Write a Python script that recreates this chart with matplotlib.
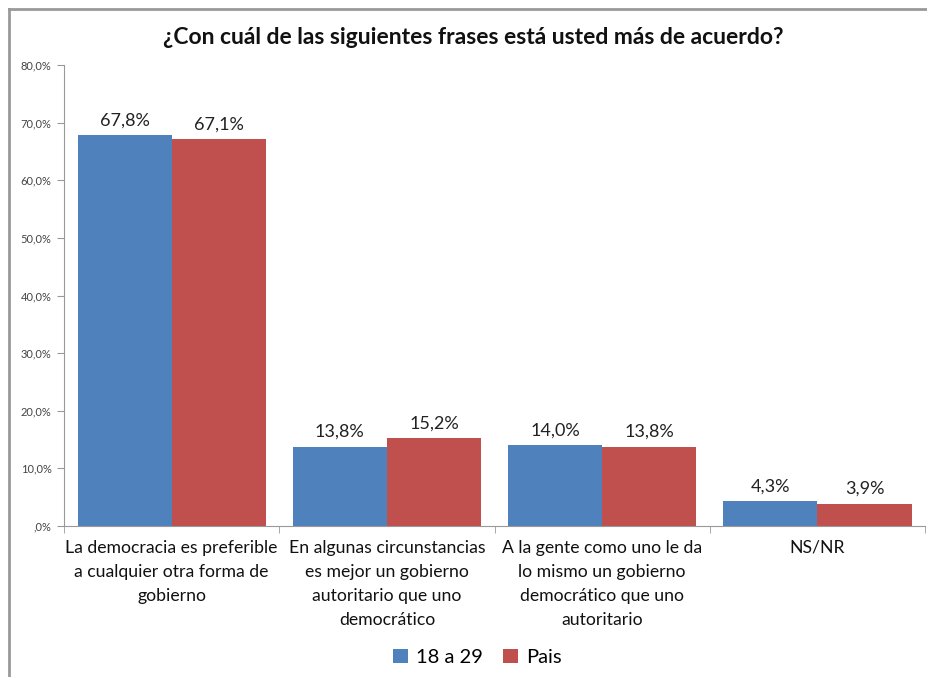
import matplotlib
matplotlib.use("Agg")
import matplotlib.pyplot as plt
from matplotlib.lines import Line2D
import numpy as np

categories = [
    "La democracia es preferible\na cualquier otra forma de\ngobierno",
    "En algunas circunstancias\nes mejor un gobierno\nautoritario que uno\ndemocrático",
    "A la gente como uno le da\nlo mismo un gobierno\ndemocrático que uno\nautoritario",
    "NS/NR",
]
series_names = ["18 a 29", "Pais"]
jovenes = [67.8, 13.8, 14.0, 4.3]
pais = [67.1, 15.2, 13.8, 3.9]
y_ticks = [0, 10, 20, 30, 40, 50, 60, 70, 80]
y_tick_labels = [",0%", "10,0%", "20,0%", "30,0%", "40,0%", "50,0%", "60,0%", "70,0%", "80,0%"]
title = "¿Con cuál de las siguientes frases está usted más de acuerdo?"

colors = ["#4F81BD", "#C0504D"]
plt.rcParams['font.family'] = ['Lato', 'DejaVu Sans']

fig = plt.figure(figsize=(9.27, 6.77), dpi=100)
ax = fig.add_axes([0.069, 0.223, 0.929, 0.681])

x = np.arange(len(categories))
w = 0.437
b1 = ax.bar(x - w / 2, jovenes, w, color=colors[0], label=series_names[0])
b2 = ax.bar(x + w / 2, pais, w, color=colors[1], label=series_names[1])

for bars, vals in ((b1, jovenes), (b2, pais)):
    for r, v in zip(bars, vals):
        ax.text(r.get_x() + r.get_width() / 2, v + 1.2, f"{v:.1f}%".replace(".", ","),
                ha="center", va="bottom", fontsize=13, color="#222222")

ax.set_xlim(-0.5, len(categories) - 0.5)
ax.set_ylim(0, 80)
ax.set_yticks(y_ticks)
ax.set_yticklabels(y_tick_labels, fontsize=8, color="#444444")
ax.set_xticks(x)
ax.set_xticklabels(categories, fontsize=12.7, color="#111111", linespacing=1.62, va="top")
ax.tick_params(axis="x", length=0, pad=10)
ax.set_xticks(np.arange(-0.5, len(categories)), minor=True)
ax.tick_params(axis="x", which="minor", length=5, color="#999999")
ax.tick_params(axis="y", length=5, color="#999999", pad=4)

for s in ["top", "right"]:
    ax.spines[s].set_visible(False)
for s in ["left", "bottom"]:
    ax.spines[s].set_color("#999999")

fig.text(0.510, 0.944, title, ha="center", va="center", fontsize=16.5, fontweight="bold", color="#111111")

leg = fig.legend(handles=[b1, b2], labels=series_names, loc="center", bbox_to_anchor=(0.515, 0.029),
                 ncol=2, frameon=False, fontsize=14.5, handlelength=0.75, handleheight=0.75,
                 handletextpad=0.4, columnspacing=1.0)

fig.add_artist(Line2D([9 / 927, 1.0], [1 - 9 / 677, 1 - 9 / 677], transform=fig.transFigure,
                      color="#999999", lw=2))
fig.add_artist(Line2D([9 / 927, 9 / 927], [0, 1 - 9 / 677], transform=fig.transFigure,
                      color="#999999", lw=2))

fig.savefig("out.png", dpi=100)
